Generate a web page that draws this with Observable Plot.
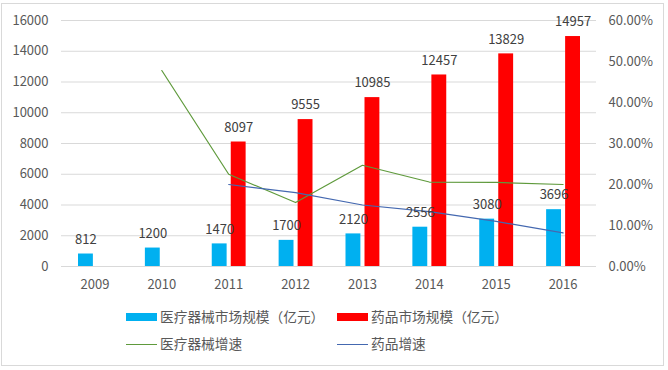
<!DOCTYPE html>
<html><head><meta charset="utf-8">
<script src="https://cdn.jsdelivr.net/npm/d3@7"></script>
<script src="https://cdn.jsdelivr.net/npm/@observablehq/plot@0.6"></script>
<style>
body{margin:0;background:#fff;}
#wrap{position:relative;width:668px;height:370px;font-family:"Noto Sans CJK SC","Noto Sans",sans-serif;overflow:hidden;}
#frame{position:absolute;left:1px;top:3px;width:663px;height:363px;border:1px solid #d9d9d9;box-sizing:border-box;pointer-events:none;}
#chart{position:absolute;left:0;top:0;}
.lg{position:absolute;font-size:13.7px;color:#595959;line-height:1;white-space:nowrap;}
.sw{position:absolute;}
</style></head>
<body>
<div id="wrap">
  <div id="chart"></div>
  <div id="frame"></div>
  <div id="legend"></div>
</div>
<script>
const years = ["2009","2010","2011","2012","2013","2014","2015","2016"];
const deviceSize = [812,1200,1470,1700,2120,2556,3080,3696];
const drugSize = [null,null,8097,9555,10985,12457,13829,14957];
const deviceGrowth = [null,0.478,0.225,0.156,0.247,0.206,0.205,0.200];
const drugGrowth = [null,null,0.200,0.180,0.150,0.134,0.110,0.082];
const leftTicks = [0,2000,4000,6000,8000,10000,12000,14000,16000];
const rightTicks = [0,0.1,0.2,0.3,0.4,0.5,0.6];
const seriesNames = ["医疗器械市场规模（亿元）","药品市场规模（亿元）","医疗器械增速","药品增速"];
const colors = ["#00b0f0","#ff0000","#5f9a3c","#4468b0"];

const leftMax = 16000, rightMax = 0.6, k = leftMax / rightMax;
const rows = years.map((year, i) => ({year, device: deviceSize[i], drug: drugSize[i], dg: deviceGrowth[i], rg: drugGrowth[i]}));
const devRows = rows.filter(d => d.device != null);
const drugRows = rows.filter(d => d.drug != null);
const dgRows = rows.filter(d => d.dg != null);
const rgRows = rows.filter(d => d.rg != null);

const chart = Plot.plot({
  width: 668,
  height: 300,
  marginLeft: 61,
  marginRight: 72,
  marginTop: 20,
  marginBottom: 34,
  style: {fontFamily: '"Noto Sans CJK SC","Noto Sans",sans-serif', background: "transparent"},
  x: {type: "band", domain: years, padding: 0, round: false},
  y: {domain: [0, leftMax]},
  marks: [
    Plot.ruleY(leftTicks, {stroke: "#d9d9d9", strokeWidth: 1}),
    Plot.barY(devRows, {x: "year", y: "device", fill: colors[0], insetLeft: 17, insetRight: 35}),
    Plot.barY(drugRows, {x: "year", y: "drug", fill: colors[1], insetLeft: 36, insetRight: 16}),
    Plot.line(dgRows, {x: "year", y: d => d.dg * k, stroke: colors[2], strokeWidth: 1.2}),
    Plot.line(rgRows, {x: "year", y: d => d.rg * k, stroke: colors[3], strokeWidth: 1.2}),
    Plot.text(devRows, {x: "year", y: "device", text: d => String(d.device), dx: -9, dy: -14.5, fill: "#404040", fontSize: 13}),
    Plot.text(drugRows, {x: "year", y: "drug", text: d => String(d.drug), dx: 10, dy: -14.5, fill: "#404040", fontSize: 13}),
    Plot.axisY({ticks: leftTicks, tickSize: 0, tickPadding: 13, fontSize: 13, fill: "#595959", label: null, tickFormat: d => String(d)}),
    Plot.axisY({anchor: "right", ticks: rightTicks.map(t => t * k), tickSize: 0, tickPadding: 12, fontSize: 13, fill: "#595959", label: null, tickFormat: d => d3.format(".2%")(d / k)}),
    Plot.axisX({tickSize: 0, tickPadding: 13, fontSize: 13, fill: "#595959", label: null})
  ]
});
document.getElementById("chart").appendChild(chart);

const legend = document.getElementById("legend");
const items = [
  {name: seriesNames[0], color: colors[0], type: "bar", x: 126, y: 317},
  {name: seriesNames[1], color: colors[1], type: "bar", x: 337, y: 317},
  {name: seriesNames[2], color: colors[2], type: "line", x: 126, y: 344},
  {name: seriesNames[3], color: colors[3], type: "line", x: 337, y: 344}
];
items.forEach(it => {
  const sw = document.createElement("div");
  sw.className = "sw";
  sw.style.left = it.x + "px";
  sw.style.width = "31px";
  sw.style.background = it.color;
  if (it.type === "bar") { sw.style.top = (it.y - 4) + "px"; sw.style.height = "8px"; }
  else { sw.style.top = (it.y - 0.5) + "px"; sw.style.height = "1.2px"; }
  legend.appendChild(sw);
  const t = document.createElement("div");
  t.className = "lg";
  t.textContent = it.name;
  t.style.left = (it.x + 34) + "px";
  t.style.top = (it.y - 7) + "px";
  legend.appendChild(t);
});
</script>
</body></html>
